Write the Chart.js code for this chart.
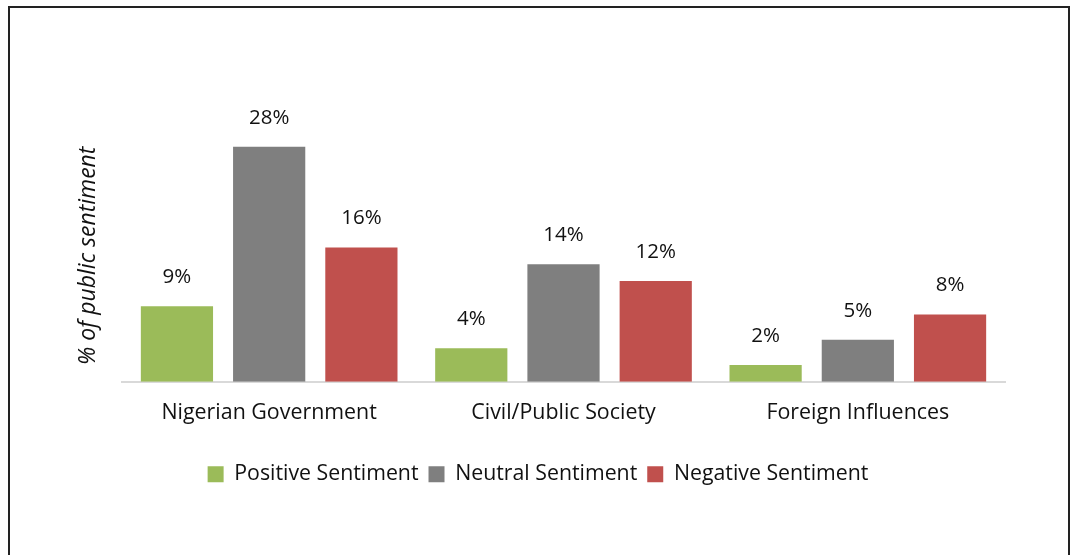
<!DOCTYPE html>
<html>
<head>
<meta charset="utf-8">
<script src="https://cdn.jsdelivr.net/npm/chart.js@4.4.1/dist/chart.umd.min.js"></script>
<style>
  html, body { margin: 0; padding: 0; background: #fff; overflow: hidden; }
  #wrap { position: relative; width: 1076px; height: 555px; }
  #frame {
    position: absolute; left: 8px; top: 6px; width: 1058px; height: 700px;
    border: 2px solid #222; pointer-events: none;
  }
</style>
</head>
<body>
<div id="wrap">
  <canvas id="sentimentChart" width="1076" height="555"></canvas>
  <div id="frame"></div>
</div>
<script>
// Dữ liệu cảm xúc công chúng theo từng nhóm
const categories = ['Nigerian Government', 'Civil/Public Society', 'Foreign Influences'];
const positiveValues = [9, 4, 2];
const neutralValues = [28, 14, 5];
const negativeValues = [16, 12, 8];
const seriesNames = ['Positive Sentiment', 'Neutral Sentiment', 'Negative Sentiment'];
const seriesColors = ['#9bbb59', '#7f7f7f', '#c0504d'];

const FONT = '"Open Sans", Lato, sans-serif';
const TEXT_COLOR = '#111';

// Vẽ nhãn phần trăm phía trên mỗi cột
const valueLabels = {
    id: 'valueLabels',
    afterDatasetsDraw(chart) {
        const c = chart.ctx;
        c.save();
        c.font = '20.5px ' + FONT;
        c.fillStyle = TEXT_COLOR;
        c.textAlign = 'center';
        c.textBaseline = 'middle';
        chart.data.datasets.forEach((ds, i) => {
            chart.getDatasetMeta(i).data.forEach((bar, j) => {
                c.fillText(ds.data[j] + '%', bar.x, bar.y - 29);
            });
        });
        c.restore();
    }
};

const ctx = document.getElementById('sentimentChart').getContext('2d');

new Chart(ctx, {
    type: 'bar',
    data: {
        labels: categories,
        datasets: [positiveValues, neutralValues, negativeValues].map((vals, i) => ({
            label: seriesNames[i],
            data: vals,
            backgroundColor: seriesColors[i],
            categoryPercentage: 0.94,
            barPercentage: 0.783
        }))
    },
    options: {
        responsive: false,
        animation: false,
        layout: { padding: { left: 71, right: 71, top: 130, bottom: 60 } },
        plugins: {
            legend: {
                position: 'bottom',
                labels: {
                    boxWidth: 16,
                    boxHeight: 16,
                    padding: 10,
                    color: TEXT_COLOR,
                    font: { family: FONT, size: 21.3 }
                }
            },
            tooltip: { enabled: false }
        },
        scales: {
            x: {
                grid: { display: false },
                border: { display: true, color: '#d9d9d9', width: 2 },
                ticks: { color: TEXT_COLOR, padding: 10, font: { family: FONT, size: 21.4 } },
                afterFit(scale) { scale.height = 72; }
            },
            y: {
                min: 0,
                max: 30,
                grid: { display: false },
                border: { display: false },
                ticks: { display: false },
                title: {
                    display: true,
                    text: '% of public sentiment',
                    color: TEXT_COLOR,
                    font: { family: FONT, size: 23, style: 'italic' }
                },
                afterFit(scale) { scale.width = 51; }
            }
        }
    },
    plugins: [valueLabels]
});
</script>
</body>
</html>
